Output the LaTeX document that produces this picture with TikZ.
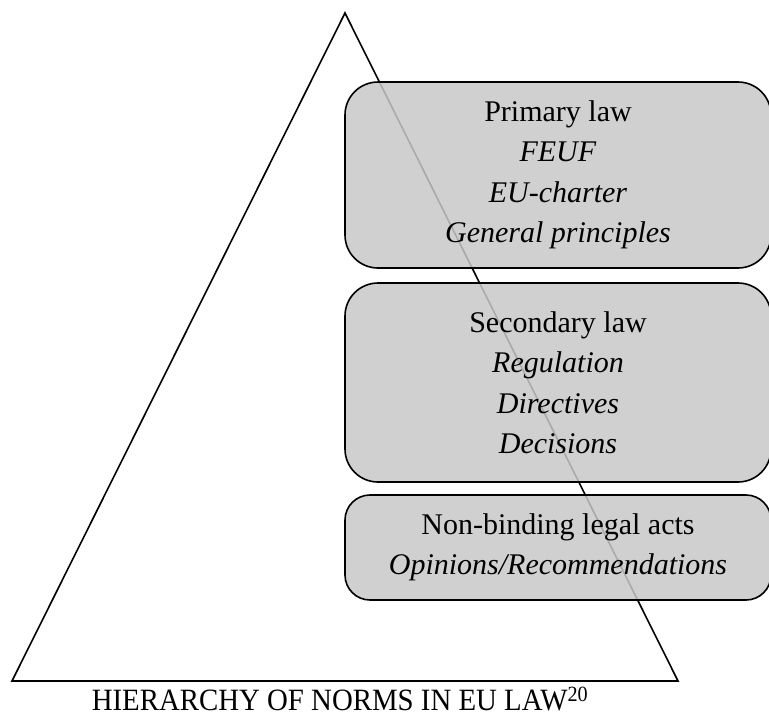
\documentclass[tikz,border=0pt]{standalone}
\usepackage{fontspec}
\setmainfont{Liberation Serif}
\definecolor{lawgray}{RGB}{200,200,200}
\begin{document}
\begin{tikzpicture}[x=1pt,y=-1pt,
    lawbox/.style={draw=black,line width=1.6pt,fill=lawgray,fill opacity=0.85,text opacity=1,
      rounded corners=33pt,align=center,inner sep=0pt,
      font=\fontsize{30}{40.5}\selectfont},
    caption/.style={font=\fontsize{31}{34}\selectfont,inner sep=0pt,anchor=base}]
        \useasboundingbox (0,0) rectangle (769,713);

        \coordinate (top)   at (345, 13);
        \coordinate (left)  at ( 12,681);
        \coordinate (right) at (678,681);
        \draw[line width=1.6pt,line join=miter] (top) -- (left) -- (right) -- cycle;

        \node[lawbox,minimum width=426pt,minimum height=186pt] (primary) at (558,175)
          {Primary law\\ \textit{FEUF}\\ \textit{EU-charter}\\ \textit{General principles}};
        \node[lawbox,minimum width=426pt,minimum height=199pt] (secondary) at (558,382.5)
          {Secondary law\\ \textit{Regulation}\\ \textit{Directives}\\ \textit{Decisions}};
        \node[lawbox,rounded corners=25pt,minimum width=426pt,minimum height=105pt] (nonbinding) at (558,547.5)
          {Non-binding legal acts\\ \textit{Opinions/Recommendations}};

        \node[caption] (title) at (340,710.5)
          {\scalebox{0.93}[1]{HIERARCHY OF NORMS IN EU LAW\textsuperscript{20}}};
      \end{tikzpicture}
\end{document}
